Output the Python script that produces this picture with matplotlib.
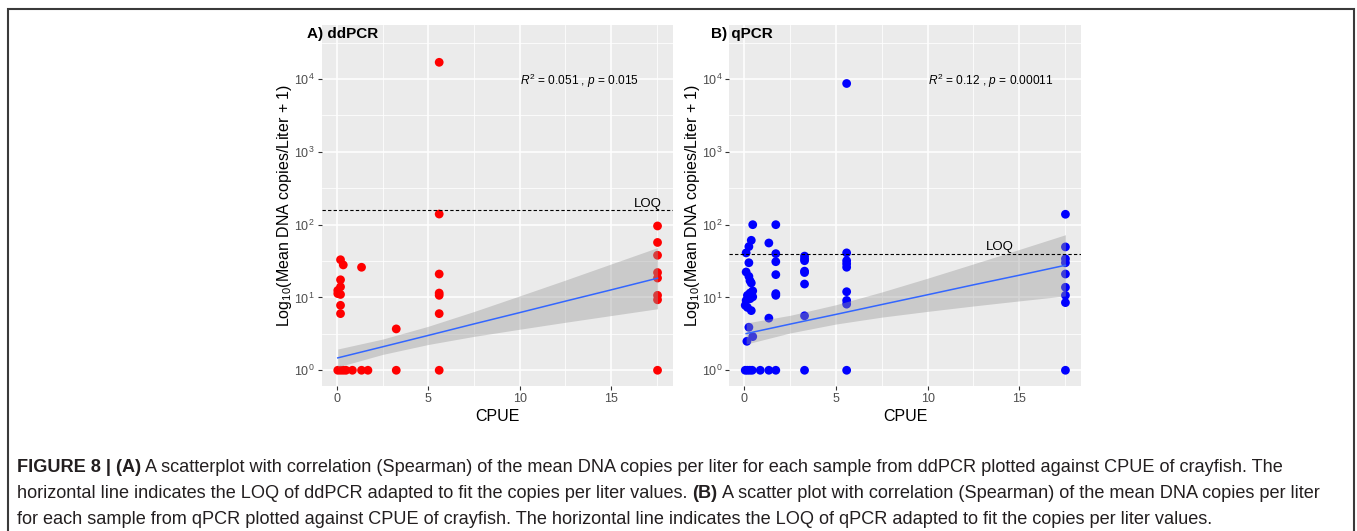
import numpy as np
import matplotlib
matplotlib.use("Agg")
import matplotlib.pyplot as plt
from matplotlib.patches import Rectangle
from matplotlib.ticker import FixedLocator, LogFormatterMathtext, NullFormatter

plt.rcParams["font.family"] = ["Liberation Sans", "DejaVu Sans"]
plt.rcParams["mathtext.fontset"] = "custom"
plt.rcParams["mathtext.rm"] = "Liberation Sans"
plt.rcParams["mathtext.it"] = "Liberation Sans:italic"
plt.rcParams["mathtext.bf"] = "Liberation Sans:bold"

# ── data (copies/L + 1) ──
dd_cpue = [0.05, 0.2, 0.35, 0.5, 0.85, 1.35, 1.7, 3.25, 5.6, 17.55,
           0.2, 0.35, 1.35, 0.2, 0.2, 0.05, 0.05, 0.2, 0.2, 0.2,
           3.25,
           5.6, 5.6, 5.6, 5.6, 5.6, 5.6,
           17.55, 17.55, 17.55, 17.55, 17.55, 17.55, 17.55]
dd_copies = [1, 1, 1, 1, 1, 1, 1, 1, 1, 1,
             33, 28, 26, 17.5, 14, 12.5, 11.3, 11, 7.8, 6,
             3.7,
             17000, 140, 21, 11.5, 10.7, 6,
             96, 57, 38, 22, 18.5, 10.7, 9.3]

q_cpue = [0.04, 0.16, 0.29, 0.42, 0.86, 1.33, 1.71, 3.28, 5.58, 17.53,
          0.45, 0.37, 0.24, 0.09, 0.24, 0.09, 0.24, 0.3, 0.37, 0.45,
          0.3, 0.16, 0.45, 0.3, 0.09, 0.04, 0.16, 0.37, 0.24, 0.45, 0.13,
          1.33, 1.33,
          1.71, 1.71, 1.71, 1.71, 1.71, 1.71,
          3.28, 3.28, 3.28, 3.28, 3.28, 3.28, 3.28,
          5.58, 5.58, 5.58, 5.58, 5.58, 5.58, 5.58, 5.58,
          17.53, 17.53, 17.53, 17.53, 17.53, 17.53, 17.53, 17.53]
q_copies = [1, 1, 1, 1, 1, 1, 1, 1, 1, 1,
            100, 61, 50, 41, 30, 22.4, 19.5, 17, 15.8, 12.3,
            11.5, 10.7, 10.2, 9.6, 9.1, 7.8, 7.3, 6.6, 3.9, 2.9, 2.5,
            56, 5.2,
            100, 40, 31, 20.6, 11.3, 10.7,
            37, 34, 32, 23, 22, 15.3, 5.6,
            8700, 41, 32, 29, 26, 12, 9.1, 8.1,
            139, 49.5, 34, 30, 21, 13.8, 10.7, 8.5]

# fitted trend + 95% band as seen in the picture
dd_fit_x = [0.05, 2.5, 5, 7.5, 10, 12.5, 15, 17.55]
dd_fit_mid = [1.48, 2.10, 3.01, 4.33, 6.19, 8.89, 12.7, 18.4]
dd_fit_lo = [1.11, 1.65, 2.26, 2.92, 3.66, 4.56, 5.64, 7.0]
dd_fit_hi = [1.96, 2.68, 4.02, 6.41, 10.5, 17.3, 28.8, 48.4]

q_fit_x = [0.09, 2.5, 5, 7.5, 10, 12.5, 15, 17.53]
q_fit_mid = [3.19, 4.31, 5.86, 8.0, 10.9, 14.9, 20.2, 27.7]
q_fit_lo = [2.29, 3.26, 4.32, 5.37, 6.44, 7.64, 8.97, 10.5]
q_fit_hi = [4.46, 5.69, 7.96, 11.9, 18.4, 28.9, 45.6, 72.8]

dd_loq = 158
q_loq = 40
stats_dd = r"$\it{R}^{2}$ = 0.051 , $\it{p}$ = 0.015"
stats_q = r"$\it{R}^{2}$ = 0.12 , $\it{p}$ = 0.00011"

W, H = 1357, 531
fig = plt.figure(figsize=(W / 100, H / 100), dpi=100)


def draw_panel(ax, cpue, copies, fx, fmid, flo, fhi, loq, loq_x, stats, color):
    ax.set_facecolor("#EBEBEB")
    ax.set_yscale("log")
    ax.set_xlim(-0.83, 18.38)
    ax.set_ylim(10 ** -0.212, 10 ** 4.743)
    for s in ax.spines.values():
        s.set_visible(False)

    ax.xaxis.set_major_locator(FixedLocator([0, 5, 10, 15]))
    ax.xaxis.set_minor_locator(FixedLocator([2.5, 7.5, 12.5, 17.5]))
    ax.yaxis.set_major_locator(FixedLocator([1, 10, 100, 1000, 10000]))
    ax.yaxis.set_minor_locator(FixedLocator([10 ** 0.5, 10 ** 1.5, 10 ** 2.5,
                                             10 ** 3.5, 10 ** 4.5]))
    ax.yaxis.set_major_formatter(LogFormatterMathtext())
    ax.yaxis.set_minor_formatter(NullFormatter())
    ax.grid(which="major", color="white", lw=1.1)
    ax.grid(which="minor", color="white", lw=0.55)
    ax.set_axisbelow(True)
    ax.tick_params(which="major", length=3, width=0.8, color="#333333",
                   labelcolor="#4D4D4D", labelsize=9, pad=2)
    ax.tick_params(which="minor", length=0)

    ax.scatter(cpue, copies, s=40, color=color, edgecolors="none", zorder=3)
    ax.fill_between(fx, flo, fhi, color="#999999", alpha=0.4, lw=0, zorder=4)
    ax.plot(fx, fmid, color="#3366FF", lw=1.1, zorder=5)

    ax.axhline(loq, color="black", lw=0.8, ls=(0, (3, 2)), zorder=5)
    ax.text(loq_x, loq * 10 ** 0.09, "LOQ", ha="center", va="center",
            fontsize=9.5, zorder=6)
    ax.text(10.0, 10 ** 3.97, stats, ha="left", va="center", fontsize=8.6)

    ax.set_xlabel("CPUE", fontsize=11.5, labelpad=3)
    ax.set_ylabel(r"Log$_{10}$(Mean DNA copies/Liter + 1)", fontsize=11.5,
                  labelpad=0)


ax_a = fig.add_axes([321.7 / W, 145.3 / H, 351.0 / W, 360.7 / H])
ax_b = fig.add_axes([729.3 / W, 145.3 / H, 351.7 / W, 360.7 / H])

draw_panel(ax_a, dd_cpue, dd_copies, dd_fit_x, dd_fit_mid, dd_fit_lo, dd_fit_hi,
           dd_loq, 17.0, stats_dd, "#FF0000")
draw_panel(ax_b, q_cpue, q_copies, q_fit_x, q_fit_mid, q_fit_lo, q_fit_hi,
           q_loq, 13.95, stats_q, "#0000FF")

fig.text(306.7 / W, 1 - 34 / H, "A) ddPCR", fontsize=11, fontweight="bold",
         ha="left", va="center", zorder=10)
fig.text(710.7 / W, 1 - 34 / H, "B) qPCR", fontsize=11, fontweight="bold",
         ha="left", va="center", zorder=10)

# outer frame of the figure box
fig.patches.append(Rectangle((8 / W, -0.1), (1354 - 8) / W, 1.1 - 9 / H,
                             transform=fig.transFigure, fill=False,
                             edgecolor="#3A3A3A", lw=1.5))

# ── caption, with bold pieces ──
cap_font = ["Liberation Sans Narrow", "Liberation Sans"]
caption = [
    [("FIGURE 8 | (A)", True),
     (" A scatterplot with correlation (Spearman) of the mean DNA copies per liter "
      "for each sample from ddPCR plotted against CPUE of crayfish. The", False)],
    [("horizontal line indicates the LOQ of ddPCR adapted to fit the copies per "
      "liter values. ", False), ("(B)", True),
     (" A scatter plot with correlation (Spearman) of the mean DNA copies per liter",
      False)],
    [("for each sample from qPCR plotted against CPUE of crayfish. The horizontal "
      "line indicates the LOQ of qPCR adapted to fit the copies per liter values.",
      False)],
]
line_y = [466, 492, 517]
line_end = [1316, 1328, 1239]
renderer = fig.canvas.get_renderer()


def draw_line(parts, y, size):
    x = 17.0
    arts = []
    for txt, bold in parts:
        t = fig.text(x / W, 1 - y / H, txt, fontsize=size, family=cap_font,
                     fontweight="bold" if bold else "normal",
                     ha="left", va="center_baseline", color="#231F20")
        arts.append(t)
        x = t.get_window_extent(renderer).x1
    return x, arts


# one common size; no line may run past where the original line ends
ratios = []
for parts, y, xe in zip(caption, line_y, line_end):
    end_x, arts = draw_line(parts, y, 12)
    ratios.append((xe - 17) / (end_x - 17))
    for a in arts:
        a.remove()
cap_size = 12 * min(ratios)
for parts, y in zip(caption, line_y):
    draw_line(parts, y, cap_size)

fig.savefig("out.png", dpi=100)
